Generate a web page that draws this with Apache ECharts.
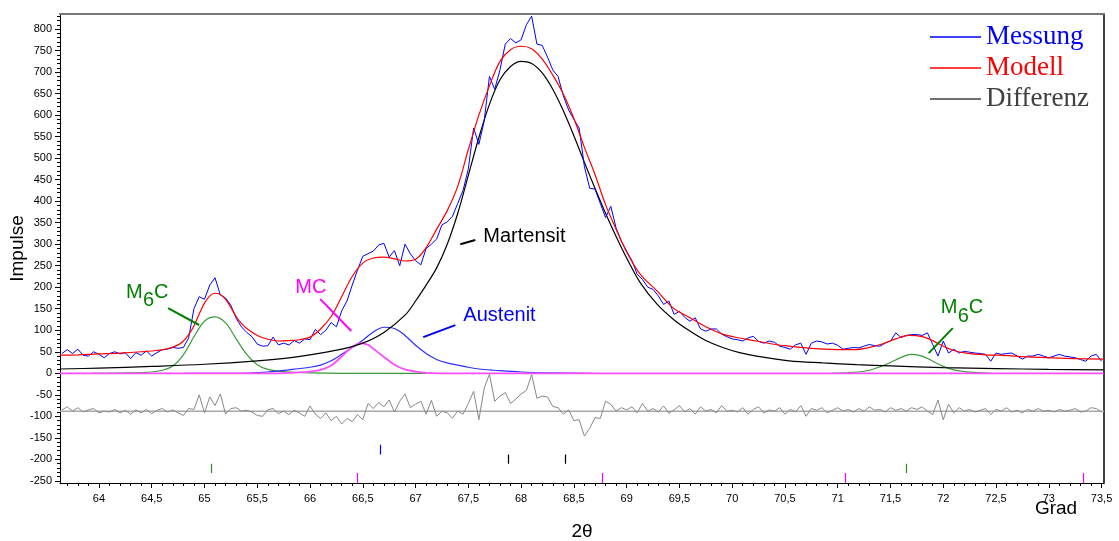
<!DOCTYPE html>
<html><head><meta charset="utf-8">
<script src="https://cdn.jsdelivr.net/npm/echarts@6/dist/echarts.min.js"></script>
<style>html,body{margin:0;padding:0;background:#fff}#c{width:1119px;height:541px}</style>
</head><body><div id="c"></div>
<script>
// ---- tick labels ----
const xTicks = [64,64.5,65,65.5,66,66.5,67,67.5,68,68.5,69,69.5,70,70.5,71,71.5,72,72.5,73,73.5];
const yTicks = [-250,-200,-150,-100,-50,0,50,100,150,200,250,300,350,400,450,500,550,600,650,700,750,800];

// ---- measured intensity (Messung) ----
const messung = [[63.65,46],[63.70,55],[63.75,46],[63.80,56],[63.85,42],[63.90,40],[63.95,50],[64.00,44],[64.05,36],[64.10,46],[64.15,50],[64.20,45],[64.25,48],[64.30,34],[64.35,48],[64.40,42],[64.45,52],[64.50,40],[64.55,48],[64.60,55],[64.65,56],[64.70,60],[64.75,58],[64.80,60],[64.85,82],[64.90,150],[64.95,178],[65.00,172],[65.05,205],[65.10,222],[65.15,182],[65.20,175],[65.25,158],[65.30,128],[65.35,108],[65.40,95],[65.45,85],[65.50,68],[65.55,63],[65.60,64],[65.65,84],[65.70,66],[65.75,70],[65.80,66],[65.85,76],[65.90,70],[65.95,80],[66.00,78],[66.05,102],[66.10,90],[66.15,100],[66.20,118],[66.25,108],[66.30,145],[66.35,168],[66.40,205],[66.45,240],[66.50,272],[66.55,278],[66.60,284],[66.65,298],[66.70,302],[66.75,270],[66.80,285],[66.85,250],[66.90,300],[66.95,278],[67.00,262],[67.05,252],[67.10,290],[67.15,300],[67.20,312],[67.25,345],[67.30,352],[67.35,365],[67.40,395],[67.45,425],[67.50,475],[67.55,570],[67.60,532],[67.65,586],[67.70,690],[67.75,660],[67.80,705],[67.85,765],[67.90,778],[67.95,768],[68.00,775],[68.05,810],[68.10,830],[68.15,765],[68.20,762],[68.25,735],[68.30,705],[68.35,690],[68.40,645],[68.45,612],[68.50,590],[68.55,570],[68.60,480],[68.65,430],[68.70,428],[68.75,395],[68.80,362],[68.85,388],[68.90,338],[68.95,307],[69.00,284],[69.05,262],[69.10,230],[69.15,218],[69.20,200],[69.25,195],[69.30,180],[69.35,160],[69.40,168],[69.45,137],[69.50,144],[69.55,130],[69.60,121],[69.65,129],[69.70,103],[69.75,98],[69.80,103],[69.85,103],[69.90,91],[69.95,85],[70.00,80],[70.05,78],[70.10,75],[70.15,82],[70.20,86],[70.25,74],[70.30,70],[70.35,75],[70.40,72],[70.45,63],[70.50,60],[70.55,56],[70.60,66],[70.65,70],[70.70,44],[70.75,70],[70.80,75],[70.85,73],[70.90,68],[70.95,70],[71.00,65],[71.05,56],[71.10,58],[71.15,60],[71.20,59],[71.25,63],[71.30,67],[71.35,64],[71.40,63],[71.45,70],[71.50,75],[71.55,94],[71.60,83],[71.65,88],[71.70,90],[71.75,90],[71.80,88],[71.85,94],[71.90,67],[71.95,40],[72.00,75],[72.05,47],[72.10,56],[72.15,47],[72.20,51],[72.25,49],[72.30,47],[72.35,46],[72.40,44],[72.45,28],[72.50,47],[72.55,44],[72.60,46],[72.65,47],[72.70,40],[72.75,33],[72.80,40],[72.85,40],[72.90,44],[72.95,40],[73.00,36],[73.05,40],[73.10,44],[73.15,40],[73.20,38],[73.25,36],[73.30,32],[73.35,28],[73.40,40],[73.45,44],[73.50,28]];

// ---- fitted model (Modell) ----
const modell = [[63.63,42],[63.8,43],[64.0,45],[64.2,47],[64.4,50],[64.55,53],[64.65,57],[64.75,66],[64.8,75],[64.85,90],[64.9,110],[64.95,138],[65.0,163],[65.05,180],[65.1,186],[65.15,183],[65.2,172],[65.25,153],[65.3,132],[65.35,116],[65.4,104],[65.5,88],[65.6,79],[65.7,75],[65.8,76],[65.9,78],[66.0,84],[66.1,103],[66.2,132],[66.3,178],[66.4,225],[66.5,256],[66.6,268],[66.7,270],[66.8,266],[66.9,261],[67.0,265],[67.1,292],[67.2,335],[67.3,378],[67.4,435],[67.5,520],[67.6,600],[67.7,668],[67.8,725],[67.9,752],[68.0,760],[68.1,754],[68.2,730],[68.3,693],[68.4,649],[68.5,592],[68.6,525],[68.7,462],[68.8,392],[68.9,335],[69.0,282],[69.13,230],[69.29,191],[69.44,152],[69.6,129],[69.75,108],[69.91,91],[70.07,82],[70.23,75],[70.38,68],[70.54,63],[70.7,59],[70.86,56],[71.0,55],[71.15,55],[71.3,60],[71.42,68],[71.55,80],[71.68,88],[71.8,85],[71.9,76],[72.0,63],[72.1,53],[72.22,47],[72.4,43],[72.53,42],[72.8,38],[73.0,36],[73.25,34],[73.52,33]];

// ---- difference curve (Differenz), drawn around its own zero line ----
const diffBaseline = -88;
const differenz = [[63.65,-85],[63.70,-78],[63.75,-88],[63.80,-80],[63.85,-90],[63.90,-85],[63.95,-82],[64.00,-92],[64.05,-88],[64.10,-90],[64.15,-84],[64.20,-92],[64.25,-86],[64.30,-95],[64.35,-85],[64.40,-92],[64.45,-84],[64.50,-94],[64.55,-86],[64.60,-82],[64.65,-90],[64.70,-85],[64.75,-92],[64.80,-98],[64.85,-82],[64.90,-84],[64.95,-50],[65.00,-92],[65.05,-55],[65.10,-75],[65.15,-48],[65.20,-95],[65.25,-82],[65.30,-80],[65.35,-88],[65.40,-86],[65.45,-90],[65.50,-98],[65.55,-100],[65.60,-85],[65.65,-82],[65.70,-94],[65.75,-88],[65.80,-96],[65.85,-86],[65.90,-92],[65.95,-100],[66.00,-76],[66.05,-95],[66.10,-105],[66.15,-92],[66.20,-110],[66.25,-100],[66.30,-118],[66.35,-105],[66.40,-112],[66.45,-96],[66.50,-108],[66.55,-70],[66.60,-82],[66.65,-68],[66.70,-78],[66.75,-62],[66.80,-90],[66.85,-65],[66.90,-48],[66.95,-80],[67.00,-72],[67.05,-65],[67.10,-95],[67.15,-63],[67.20,-100],[67.25,-88],[67.30,-92],[67.35,-104],[67.40,-88],[67.45,-95],[67.50,-70],[67.55,-42],[67.60,-108],[67.65,-35],[67.70,-2],[67.75,-65],[67.80,-53],[67.85,-45],[67.90,-70],[67.95,-60],[68.00,-48],[68.05,-40],[68.10,-3],[68.15,-58],[68.20,-53],[68.25,-55],[68.30,-77],[68.35,-80],[68.40,-95],[68.45,-85],[68.50,-110],[68.55,-108],[68.60,-146],[68.65,-128],[68.70,-103],[68.75,-105],[68.80,-65],[68.85,-72],[68.90,-88],[68.95,-80],[69.00,-85],[69.05,-78],[69.10,-92],[69.15,-70],[69.20,-88],[69.25,-82],[69.30,-90],[69.35,-76],[69.40,-93],[69.45,-85],[69.50,-75],[69.55,-90],[69.60,-82],[69.65,-95],[69.70,-78],[69.75,-88],[69.80,-84],[69.85,-92],[69.90,-75],[69.95,-88],[70.00,-86],[70.05,-90],[70.10,-80],[70.15,-95],[70.20,-84],[70.25,-78],[70.30,-92],[70.35,-85],[70.40,-88],[70.45,-80],[70.50,-95],[70.55,-84],[70.60,-90],[70.65,-75],[70.70,-100],[70.75,-82],[70.80,-86],[70.85,-80],[70.90,-92],[70.95,-86],[71.00,-80],[71.05,-88],[71.10,-84],[71.15,-90],[71.20,-82],[71.25,-88],[71.30,-78],[71.35,-86],[71.40,-84],[71.45,-90],[71.50,-80],[71.55,-86],[71.60,-82],[71.65,-88],[71.70,-80],[71.75,-84],[71.80,-78],[71.85,-88],[71.90,-96],[71.95,-62],[72.00,-108],[72.05,-72],[72.10,-92],[72.15,-80],[72.20,-88],[72.25,-84],[72.30,-90],[72.35,-86],[72.40,-82],[72.45,-96],[72.50,-84],[72.55,-88],[72.60,-80],[72.65,-90],[72.70,-86],[72.75,-92],[72.80,-84],[72.85,-88],[72.90,-82],[72.95,-88],[73.00,-86],[73.05,-90],[73.10,-84],[73.15,-88],[73.20,-86],[73.25,-82],[73.30,-90],[73.35,-88],[73.40,-80],[73.45,-82],[73.50,-90]];

// ---- phase components ----
const martensit = [[63.63,10],[64.0,12],[64.5,16],[65.0,21],[65.5,29],[65.8,36],[66.1,47],[66.3,56],[66.5,70],[66.7,95],[66.9,135],[67.0,168],[67.1,205],[67.2,245],[67.3,300],[67.4,372],[67.5,460],[67.6,548],[67.7,625],[67.8,682],[67.9,713],[68.0,725],[68.1,720],[68.2,698],[68.3,660],[68.4,610],[68.5,552],[68.6,490],[68.7,430],[68.8,372],[68.9,318],[69.0,268],[69.13,210],[69.29,160],[69.45,124],[69.6,98],[69.75,76],[69.91,60],[70.07,48],[70.23,40],[70.54,29],[70.86,24],[71.18,20],[71.5,17],[72.0,13],[72.5,11],[73.0,9],[73.52,8]];
const austenit = [[64.81,0],[65.3,0],[65.6,3],[65.8,8],[66.0,14],[66.1,19],[66.2,29],[66.3,44],[66.4,60],[66.5,77],[66.6,96],[66.7,107],[66.8,104],[66.9,88],[67.0,65],[67.1,46],[67.2,32],[67.3,24],[67.4,19],[67.5,14],[67.6,10],[67.75,7],[68.0,3],[68.3,1],[68.68,0]];
const mcPhase = [[63.63,0],[65.7,0],[65.9,2],[66.0,4],[66.1,8],[66.2,18],[66.3,39],[66.4,61],[66.48,70],[66.55,66],[66.6,57],[66.7,38],[66.8,20],[66.9,9],[67.0,4],[67.1,1],[67.3,0],[73.52,0]];
const m6cLeft = [[63.93,0],[64.3,1],[64.5,3],[64.6,7],[64.7,17],[64.8,43],[64.9,85],[65.0,121],[65.1,131],[65.2,117],[65.3,80],[65.4,44],[65.5,20],[65.6,9],[65.7,5],[65.8,3],[66.0,1],[66.3,0],[67.1,0]];
const m6cRight = [[70.95,0],[71.2,3],[71.3,7],[71.4,15],[71.5,25],[71.6,37],[71.7,44],[71.8,40],[71.9,28],[72.0,16],[72.1,8],[72.2,4],[72.3,2],[72.46,0]];

// ---- reflection positions (tick marks below the pattern) ----
const reflexAustenit = [66.67];
const reflexMartensit = [67.875, 68.42];
const reflexM6C = [65.06, 71.65];
const reflexMC = [66.45, 68.77, 71.07, 73.33];
const reflexRows = { austenit:[-166,-189], martensit:[-189,-210], m6c:[-210,-232], mc:[-232,-255] };

const X_MIN = 63.631, X_MAX = 73.523, Y_MIN = -255, Y_MAX = 835;

const chart = echarts.init(document.getElementById('c'));
const FONT = 'Liberation Sans, Arial, sans-serif';

function lineSeries(name, data, color, width, z, extra) {
  return Object.assign({
    type:'line', name, data, symbol:'none', showSymbol:false,
    lineStyle:{color, width}, itemStyle:{color}, z, silent:true,
    xAxisIndex:0, yAxisIndex:0, animation:false, smooth:false
  }, extra || {});
}
function tickSeries(xs, row, color) {
  return {type:'lines', coordinateSystem:'cartesian2d', xAxisIndex:0, yAxisIndex:0,
    data: xs.map(x => ({coords:[[x,row[0]],[x,row[1]]]})),
    lineStyle:{color, width:1.2, opacity:1}, silent:true, animation:false, z:5};
}

const minorX = []; for (let v = 63.7; v < X_MAX; v += 0.1) minorX.push(+v.toFixed(2));
const minorY = []; for (let v = -250; v <= 830; v += 10) minorY.push(v);

// annotation leader lines (data coordinates)
const leaderLines = [
  {coords:[[64.655,151.5],[64.949,112.2]], color:'#008000'},
  {coords:[[66.097,172.4],[66.391,98.1]], color:'#ff00ff'},
  {coords:[[67.424,300.0],[67.566,309.6]], color:'#000000'},
  {coords:[[67.073,84.1],[67.377,112.0]], color:'#0000ff'},
  {coords:[[71.862,46.9],[72.09,105.0]], color:'#008000'}
];
// annotation texts, anchored at left / vertical middle of first glyph (data coordinates)
const annotations = [
  {x:64.257, y:187.5, color:'#008000', parts:[['M',0,0],['6',17,8],['C',28,0]]},
  {x:65.860, y:199.2, color:'#ff00ff', parts:[['MC',0,0]]},
  {x:67.642, y:317.7, color:'#000000', parts:[['Martensit',0,0]]},
  {x:67.453, y:134.1, color:'#0000ff', parts:[['Austenit',0,0]]},
  {x:71.976, y:152.7, color:'#008000', parts:[['M',0,0],['6',17,9],['C',28,0]]}
];

const SM = 0.35;
const option = {
  animation:false,
  backgroundColor:'#ffffff',
  textStyle:{fontFamily:FONT},
  grid:{left:60, right:15, top:14, bottom:58, containLabel:false, outerBoundsMode:'none'},
  legend:{
    show:true, orient:'vertical', left:930, top:23, itemWidth:51, itemHeight:1.5, itemGap:3,
    icon:'rect', selectedMode:false, padding:0,
    textStyle:{fontFamily:'Liberation Serif, Times New Roman, serif', fontSize:27, lineHeight:28},
    data:[
      {name:'Messung', textStyle:{color:'#0000ff'}, itemStyle:{color:'#0000ff'}},
      {name:'Modell', textStyle:{color:'#ff0000'}, itemStyle:{color:'#ff0000'}},
      {name:'Differenz', textStyle:{color:'#404040'}, itemStyle:{color:'#404040'}}
    ]
  },
  xAxis:[
    {type:'value', min:X_MIN, max:X_MAX, position:'bottom',
      axisLine:{onZero:false, lineStyle:{color:'#000', width:1}},
      axisTick:{show:true, customValues:xTicks, length:5, lineStyle:{color:'#000'}},
      axisLabel:{customValues:xTicks, margin:10, fontSize:11, color:'#000', fontFamily:FONT,
        formatter:v => String(v).replace('.', ',')},
      splitLine:{show:false},
      name:'2θ', nameLocation:'middle', nameGap:39,
      nameTextStyle:{fontSize:19, color:'#000', fontFamily:FONT}},
    {type:'value', min:X_MIN, max:X_MAX, position:'bottom',
      axisLine:{show:false, onZero:false},
      axisTick:{show:true, customValues:minorX, length:3, lineStyle:{color:'#000'}},
      axisLabel:{show:false}, splitLine:{show:false}},
    {type:'value', min:X_MIN, max:X_MAX, position:'top',
      axisLine:{show:true, onZero:false, lineStyle:{color:'#777', width:2}},
      axisTick:{show:false}, axisLabel:{show:false}, splitLine:{show:false}}
  ],
  yAxis:[
    {type:'value', min:Y_MIN, max:Y_MAX, position:'left',
      axisLine:{show:true, onZero:false, lineStyle:{color:'#000', width:1}},
      axisTick:{show:true, customValues:yTicks, length:5, lineStyle:{color:'#000'}},
      axisLabel:{customValues:yTicks, margin:8, fontSize:11, color:'#000', fontFamily:FONT},
      splitLine:{show:false},
      name:'Impulse', nameLocation:'middle', nameGap:33, nameRotate:90, nameMoveOverlap:false,
      nameTextStyle:{fontSize:19, color:'#000', fontFamily:FONT}},
    {type:'value', min:Y_MIN, max:Y_MAX, position:'left',
      axisLine:{show:false, onZero:false},
      axisTick:{show:true, customValues:minorY, length:3, lineStyle:{color:'#000'}},
      axisLabel:{show:false}, splitLine:{show:false}},
    {type:'value', min:Y_MIN, max:Y_MAX, position:'right',
      axisLine:{show:true, onZero:false, lineStyle:{color:'#000', width:1.5}},
      axisTick:{show:false}, axisLabel:{show:false}, splitLine:{show:false}}
  ],
  series:[
    lineSeries('M6C', m6cLeft, '#3a9a3a', 1.2, 2, {smooth:SM}),
    lineSeries('M6C', m6cRight, '#3a9a3a', 1.2, 2, {smooth:SM}),
    lineSeries('Austenit', austenit, '#2f2fff', 1.2, 3, {smooth:SM}),
    lineSeries('MC', mcPhase, '#ff4cff', 1.8, 4, {smooth:SM}),
    lineSeries('Martensit', martensit, '#000000', 1.2, 5, {smooth:SM}),
    lineSeries('Messung', messung, '#0000ff', 1, 6),
    lineSeries('Modell', modell, '#ff0000', 1.2, 7, {smooth:SM}),
    lineSeries('Nulllinie', [[X_MIN,diffBaseline],[X_MAX,diffBaseline]], '#a8a8a8', 1.5, 3),
    lineSeries('Differenz', differenz, '#888888', 1, 4),
    tickSeries(reflexAustenit, reflexRows.austenit, '#0000ff'),
    tickSeries(reflexMartensit, reflexRows.martensit, '#000000'),
    tickSeries(reflexM6C, reflexRows.m6c, '#2e8b2e'),
    tickSeries(reflexMC, reflexRows.mc, '#ff00ff'),
    {type:'lines', coordinateSystem:'cartesian2d', xAxisIndex:0, yAxisIndex:0,
      data: leaderLines.map(l => ({coords:l.coords, lineStyle:{color:l.color, width:2, opacity:1}})),
      lineStyle:{width:2, opacity:1}, silent:true, animation:false, z:10}
  ]
};
chart.setOption(option);

const graphics = [];
annotations.forEach(a => {
  const p = chart.convertToPixel({seriesIndex:0}, [a.x, a.y]);
  a.parts.forEach(([t, dx, dy]) => graphics.push({
    type:'text', x:p[0]+dx, y:p[1]+dy, silent:true, z:100,
    style:{text:t, fill:a.color, fontSize:20, fontFamily:FONT, align:'left', verticalAlign:'middle'}
  }));
});
graphics.push({type:'text', x:1056, y:509, silent:true, z:100,
  style:{text:'Grad', fill:'#000', fontSize:19, fontFamily:FONT, align:'center', verticalAlign:'middle'}});
chart.setOption({graphic:graphics});
</script>
</body></html>
